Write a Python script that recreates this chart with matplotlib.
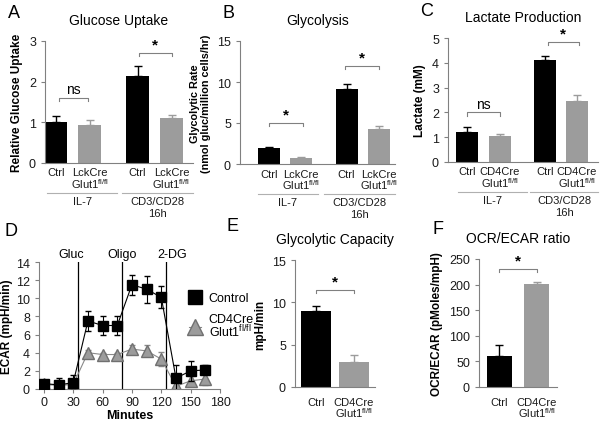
import matplotlib
matplotlib.use('Agg')
import matplotlib.pyplot as plt
import numpy as np

plt.rcParams['font.family'] = ['Liberation Sans', 'DejaVu Sans']
plt.rcParams['font.size'] = 9
plt.rcParams['mathtext.default'] = 'regular'

# data
groups = ['IL-7', 'CD3/CD28\n16h']
lck_labels = ['Ctrl', 'LckCre\nGlut1$^{fl/fl}$', 'Ctrl', 'LckCre\nGlut1$^{fl/fl}$']
cd4_labels = ['Ctrl', 'CD4Cre\nGlut1$^{fl/fl}$', 'Ctrl', 'CD4Cre\nGlut1$^{fl/fl}$']

uptake = [1.0, 0.93, 2.13, 1.1]
uptake_err = [0.15, 0.13, 0.25, 0.08]
glyco = [2.0, 0.7, 9.1, 4.3]
glyco_err = [0.12, 0.1, 0.6, 0.3]
lactate = [1.2, 1.05, 4.13, 2.45]
lactate_err = [0.2, 0.07, 0.15, 0.27]

minutes = [0, 15, 30, 45, 60, 75, 90, 105, 120, 135, 150, 165]
ecar_ctrl = [0.6, 0.45, 0.7, 7.5, 7.0, 7.0, 11.5, 11.0, 10.1, 1.2, 2.0, 2.1]
ecar_ctrl_err = [0.3, 0.8, 0.8, 1.1, 1.1, 1.1, 1.1, 1.5, 1.2, 1.5, 1.1, 0.5]
ecar_ko = [0.5, 0.4, 0.5, 4.0, 3.8, 3.8, 4.4, 4.2, 3.3, 0.3, 0.9, 1.1]
ecar_ko_err = [0.3, 0.3, 0.5, 0.3, 0.2, 0.2, 0.5, 0.6, 0.8, 0.6, 0.5, 0.7]
injections = [35, 80, 125]
inj_labels = ['Gluc', 'Oligo', '2-DG']
inj_label_x = [28, 80, 131]

cap_labels = ['Ctrl', 'CD4Cre\nGlut1$^{fl/fl}$']
capacity = [9.0, 3.0]
capacity_err = [0.6, 0.8]
ratio = [60, 202]
ratio_err = [22, 3]

BLACK = '#000000'
GRAY = '#9c9c9c'
AXC = '#808080'
TXT = '#1a1a1a'
PT = 0.72  # points per pixel

fig = plt.figure(figsize=(6, 4.27), dpi=100)


def px_axes(l, t, r, b):
    return fig.add_axes([l / 600, 1 - b / 427, (r - l) / 600, (b - t) / 427])


def style(ax):
    for s in ['top', 'right']:
        ax.spines[s].set_visible(False)
    for s in ['left', 'bottom']:
        ax.spines[s].set_color(AXC)
        ax.spines[s].set_linewidth(0.8)
    ax.tick_params(axis='y', colors=AXC, labelcolor=TXT, labelsize=9, length=3, width=0.8)


def under(ax, x, text, dy_px, size=8):
    # text whose baseline lies dy_px pixels under the x axis
    ax.annotate(text, xy=(x, 0), xycoords=ax.get_xaxis_transform(),
                xytext=(0, -dy_px * PT), textcoords='offset points',
                ha='center', va='baseline', fontsize=size, color=TXT,
                annotation_clip=False)


def xlabels(ax, pos, labels, first):
    ax.set_xticks(pos)
    ax.set_xticklabels([])
    ax.tick_params(axis='x', length=0)
    for p, lab in zip(pos, labels):
        for i, line in enumerate(lab.split('\n')):
            under(ax, p, line, first + 12.5 * i)


def bracket(ax, x1, x2, y, txt, h):
    ax.plot([x1, x1, x2, x2], [y - h, y, y, y - h], color=AXC, lw=0.8)
    ax.text((x1 + x2) / 2, y + h * 0.5, txt, ha='center', va='bottom',
            fontsize=11 if txt == '*' else 10, fontweight='bold' if txt == '*' else 'normal')


def bar_panel(ax, vals, errs, labels, ylim, ticks, xlim, pos, ylabel, title, sigs, glines,
              ylsize=8.5):
    cols = [BLACK, GRAY, BLACK, GRAY]
    for p, v, e, c in zip(pos, vals, errs, cols):
        ax.bar(p, v, 0.68, color=c)
        ax.errorbar(p, v, yerr=[[0], [e]], color=c, capsize=3, lw=1, capthick=1)
    style(ax)
    ax.set_ylim(*ylim)
    ax.set_yticks(ticks)
    ax.set_xlim(*xlim)
    xlabels(ax, pos, labels, 12.5)
    ax.set_ylabel(ylabel, fontweight='bold', fontsize=ylsize)
    ax.set_title(title, fontsize=10, pad=12)
    for (x1, x2, y, t) in sigs:
        bracket(ax, x1, x2, y, t, (ylim[1] - ylim[0]) * 0.025)
    tr = ax.get_xaxis_transform()
    bb = ax.get_window_extent()
    yline = -29.5 / bb.height
    for (x1, x2), g in zip(glines, groups):
        ax.plot([x1, x2], [yline, yline], color='#b0b0b0', lw=0.8, transform=tr, clip_on=False)
        for i, line in enumerate(g.split('\n')):
            under(ax, (x1 + x2) / 2, line, 41 + 12 * i)


pos = [0, 1, 2.4, 3.4]

axA = px_axes(45, 42, 193, 164)
bar_panel(axA, uptake, uptake_err, lck_labels, (0, 3), [0, 1, 2, 3], (-0.32, 4.03), pos,
          'Relative Glucose Uptake', 'Glucose Uptake',
          [(0.1, 0.95, 1.6, 'ns'), (2.45, 3.4, 2.7, '*')],
          [(-0.25, 1.8), (1.95, 4.03)])

axB = px_axes(240, 42, 395, 165)
bar_panel(axB, glyco, glyco_err, lck_labels, (0, 15), [0, 5, 10, 15], (-0.9, 3.9), pos,
          'Glycolytic Rate\n(nmol gluc/million cells/hr)', 'Glycolysis',
          [(0.0, 1.05, 5.0, '*'), (2.35, 3.4, 12.0, '*')],
          [(-0.35, 1.5), (1.7, 3.9)], ylsize=7.8)

axC = px_axes(448, 39, 598, 163)
bar_panel(axC, lactate, lactate_err, cd4_labels, (0, 5), [0, 1, 2, 3, 4, 5], (-0.6, 4.05), pos,
          'Lactate (mM)', 'Lactate Production',
          [(0.0, 1.0, 2.0, 'ns'), (2.5, 3.45, 4.85, '*')],
          [(-0.3, 1.85), (1.95, 4.05)])

# panel D
axD = px_axes(39, 263, 220, 390)
style(axD)
axD.tick_params(axis='x', colors=AXC, labelcolor=TXT, labelsize=9, length=3, width=0.8, pad=2)
for x in injections:
    axD.axvline(x, color='black', lw=0.9, zorder=1)
for x, t in zip(inj_label_x, inj_labels):
    axD.text(x, 14.2, t, ha='center', va='bottom', fontsize=9)
axD.errorbar(minutes, ecar_ctrl, yerr=ecar_ctrl_err, color='black', lw=0.8,
             marker='s', ms=7.5, capsize=2.5, elinewidth=0.8, label='Control', zorder=3)
axD.errorbar(minutes, ecar_ko, yerr=ecar_ko_err, color='#8a8a8a', mfc=GRAY, mec='#707070',
             lw=0.8, marker='^', ms=8, capsize=2.5, elinewidth=0.8,
             label='CD4Cre\nGlut1$^{fl/fl}$', zorder=2)
axD.set_xlim(-5, 180)
axD.set_ylim(0, 14)
axD.set_xticks([0, 30, 60, 90, 120, 150, 180])
axD.set_yticks(range(0, 15, 2))
axD.set_xlabel('Minutes', fontweight='bold', fontsize=9, labelpad=1)
axD.set_ylabel('ECAR (mpH/min)', fontweight='bold', fontsize=8.5, labelpad=2)
h, l = axD.get_legend_handles_labels()
h = [hh[0] for hh in h]
leg = axD.legend(h, l, loc='upper left', bbox_to_anchor=(0.8, 0.8), frameon=False,
                 fontsize=9, markerscale=1.4, handlelength=1.0, handletextpad=0.6,
                 labelspacing=0.7, borderaxespad=0)
for t in leg.get_texts():
    t.set_linespacing(0.85)


def two_bar(ax, vals, errs, ylim, ticks, ylabel, title, sig, width):
    px = [0, 1]
    for p, v, e, c in zip(px, vals, errs, [BLACK, GRAY]):
        ax.bar(p, v, width, color=c)
        ax.errorbar(p, v, yerr=[[0], [e]], color=c, capsize=3, lw=1, capthick=1)
    style(ax)
    ax.set_ylim(*ylim)
    ax.set_yticks(ticks)
    ax.set_xlim(-0.55, 1.55)
    xlabels(ax, px, cap_labels, 18)
    ax.set_ylabel(ylabel, fontweight='bold', fontsize=8.5)
    ax.set_title(title, fontsize=10, pad=12)
    bracket(ax, sig[0], sig[1], sig[2], '*', (ylim[1] - ylim[0]) * 0.025)


axE = px_axes(295, 261, 375, 388)
two_bar(axE, capacity, capacity_err, (0, 15), [0, 5, 10, 15], 'mpH/min',
        'Glycolytic Capacity', (0.0, 1.0, 11.5), 0.8)

axF = px_axes(479, 260, 557, 388)
two_bar(axF, ratio, ratio_err, (0, 250), [0, 50, 100, 150, 200, 250],
        'OCR/ECAR (pMoles/mpH)', 'OCR/ECAR ratio', (0.0, 1.0, 230), 0.68)

for lab, x, y in [('A', 8, 13), ('B', 222, 13), ('C', 420, 12),
                  ('D', 5, 232), ('E', 227, 227), ('F', 433, 230)]:
    fig.text(x / 600, 1 - y / 427, lab, fontsize=13, va='center', ha='left')

fig.savefig('out.png', dpi=100)
